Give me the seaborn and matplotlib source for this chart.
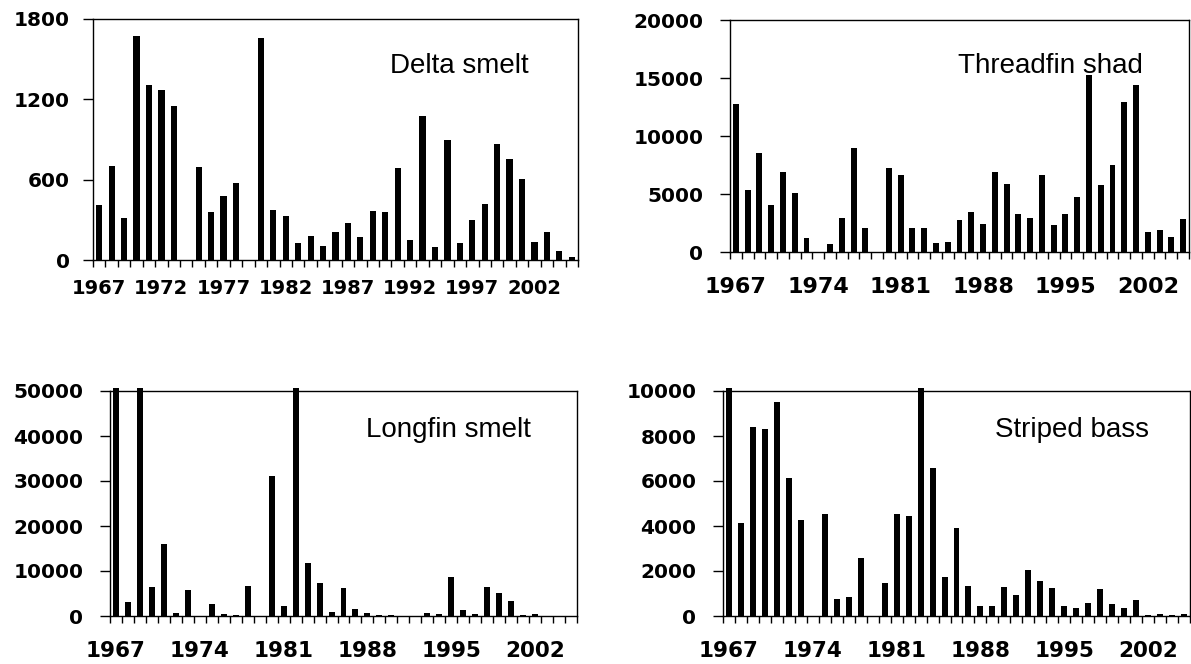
import numpy as np
import pandas as pd
import matplotlib
matplotlib.use("Agg")
import matplotlib.pyplot as plt
import seaborn as sns

# ---------------- data ----------------
years = list(range(1967, 2006))

delta_smelt = [410, 700, 316, 1676, 1307, 1270, 1150, 0, 697, 361, 478, 578, 0,
               1661, 374, 329, 127, 179, 105, 209, 276, 172, 366, 361, 687, 149,
               1076, 97, 896, 127, 299, 418, 867, 754, 605, 134, 209, 67, 22]

threadfin_shad = [12770, 5367, 8553, 4075, 6917, 5109, 1234, 0, 718, 2956, 8983,
                  2095, 0, 7261, 6658, 2095, 2095, 804, 890, 2784, 3473, 2440,
                  6917, 5884, 3300, 2956, 6658, 2353, 3300, 4764, 15268, 5797,
                  7519, 12944, 14407, 1751, 1923, 1320, 2870]

longfin_smelt = [50600, 3178, 50600, 6503, 16036, 739, 5838, 0, 2734, 517, 296,
                 6725, 0, 31112, 2291, 50600, 11824, 7390, 961, 6282, 1626, 739,
                 296, 296, 0, 0, 739, 517, 8720, 1404, 517, 6503, 5173, 3399,
                 296, 517, 0, 0, 0]

striped_bass = [10120, 4136, 8390, 8301, 9497, 6130, 4269, 0, 4534, 768, 857,
                2585, 0, 1477, 4534, 4446, 10120, 6573, 1743, 3914, 1344, 458,
                458, 1300, 945, 2053, 1566, 1255, 458, 369, 591, 1211, 546, 369,
                724, 44, 89, 44, 89]

titles = ["Delta smelt", "Threadfin shad", "Longfin smelt", "Striped bass"]
yticks_list = [[0, 600, 1200, 1800],
               [0, 5000, 10000, 15000, 20000],
               [0, 10000, 20000, 30000, 40000, 50000],
               [0, 2000, 4000, 6000, 8000, 10000]]
label_steps = [5, 7, 7, 7]

# ---------------- layout ----------------
sns.set_style("white")
plt.rcParams['font.family'] = ['DejaVu Sans']
plt.rcParams['text.color'] = 'black'
plt.rcParams['xtick.color'] = 'black'
plt.rcParams['ytick.color'] = 'black'
plt.rcParams['xtick.labelcolor'] = 'black'
plt.rcParams['ytick.labelcolor'] = 'black'

W, H = 1191, 664
fig = plt.figure(figsize=(W / 100, H / 100), dpi=100)

def rect(l, r, t, b):
    return [l / W, 1 - b / H, (r - l) / W, (b - t) / H]

layout = [
    dict(rect=rect(93, 578, 19, 260), txy=(0.755, 0.776), xfs=14, yfs=14.5, xpad=14, ypad=9.4),
    dict(rect=rect(730, 1189, 20, 252), txy=(0.699, 0.772), xfs=16, yfs=14.5, xpad=18, ypad=12),
    dict(rect=rect(110, 577, 391, 616), txy=(0.724, 0.796), xfs=15.5, yfs=14.5, xpad=18, ypad=12),
    dict(rect=rect(723, 1190, 391, 616), txy=(0.747, 0.796), xfs=15.5, yfs=14.5, xpad=18, ypad=12),
]

series = [delta_smelt, threadfin_shad, longfin_smelt, striped_bass]
cats = [str(y) for y in years]
n = len(years)

for vals, title, yt, step, lay in zip(series, titles, yticks_list, label_steps, layout):
    ax = fig.add_axes(lay["rect"])
    df = pd.DataFrame({"year": cats, "value": vals})
    sns.barplot(data=df, x="year", y="value", order=cats, color="black",
                width=0.5, saturation=1, linewidth=0, errorbar=None, ax=ax)
    for p in ax.patches:
        p.set_clip_on(False)
    ax.set_xlim(-0.5, n - 0.5)
    ax.set_ylim(yt[0], yt[-1])
    ax.set_yticks(yt)
    ax.set_yticklabels([str(v) for v in yt])
    major = list(range(0, n, step))
    ax.set_xticks(major)
    ax.set_xticklabels([cats[i] for i in major])
    ax.set_xticks(np.arange(-0.5, n, 1.0), minor=True)
    ax.tick_params(axis='x', which='major', length=0, pad=lay["xpad"],
                   labelsize=lay["xfs"], bottom=True, labelcolor='black')
    ax.tick_params(axis='x', which='minor', length=5, width=1, direction='out',
                   bottom=True, color='black')
    ax.tick_params(axis='y', which='major', length=7.2, width=1, direction='out',
                   left=True, pad=lay["ypad"], labelsize=lay["yfs"], color='black',
                   labelcolor='black')
    for lbl in ax.get_xticklabels() + ax.get_yticklabels():
        lbl.set_fontweight('bold')
    ax.set_xlabel("")
    ax.set_ylabel("")
    for s in ax.spines.values():
        s.set_visible(True)
        s.set_color('black')
        s.set_linewidth(1)
    ax.text(lay["txy"][0], lay["txy"][1], title, transform=ax.transAxes,
            ha='center', va='baseline', fontsize=20, family='Liberation Sans',
            color='black')

fig.savefig("out.png", dpi=100)
